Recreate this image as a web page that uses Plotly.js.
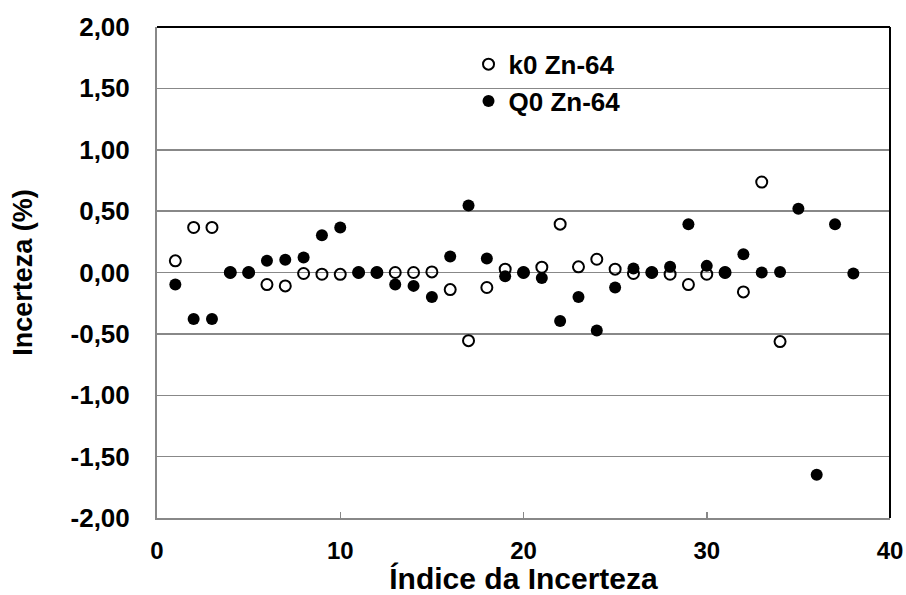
<!DOCTYPE html>
<html>
<head>
<meta charset="utf-8">
<script src="https://cdn.plot.ly/plotly-3.0.1.min.js"></script>
<style>html,body{margin:0;padding:0;background:#fff;}#chart{width:906px;height:595px;}</style>
</head>
<body>
<div id="chart"></div>
<script>
// Data
const k0Index = [1,2,3,4,5,6,7,8,9,10,11,12,13,14,15,16,17,18,19,20,21,22,23,24,25,26,27,28,29,30,31,32,33,34];
const k0Values = [0.095,0.367,0.367,0.00,0.00,-0.098,-0.109,-0.008,-0.014,-0.015,0.00,0.00,0.00,0.00,0.005,-0.139,-0.555,-0.122,0.027,0.00,0.043,0.394,0.046,0.108,0.027,-0.008,0.00,-0.014,-0.098,-0.014,0.00,-0.158,0.737,-0.563];
const q0Index = [1,2,3,4,5,6,7,8,9,10,11,12,13,14,15,16,17,18,19,20,21,22,23,24,25,26,27,28,29,30,31,32,33,34,35,36,37,38];
const q0Values = [-0.098,-0.378,-0.378,0.00,0.00,0.095,0.103,0.122,0.304,0.367,0.00,0.00,-0.098,-0.109,-0.199,0.13,0.546,0.114,-0.030,0.00,-0.044,-0.395,-0.199,-0.473,-0.122,0.033,0.00,0.046,0.394,0.054,0.00,0.149,0.00,0.005,0.519,-1.648,0.394,-0.008];
const seriesNames = ['k0 Zn-64', 'Q0 Zn-64'];
const yTicks = [-2,-1.5,-1,-0.5,0,0.5,1,1.5,2];
const yTickText = ['-2,00','-1,50','-1,00','-0,50','0,00','0,50','1,00','1,50','2,00'];
const xTicks = [0,10,20,30,40];
const xTickText = ['0','10','20','30','40'];

const FONT = 'Arial, "Liberation Sans", sans-serif';

const traces = [
  {
    x: k0Index, y: k0Values, name: seriesNames[0], type: 'scatter', mode: 'markers',
    marker: {symbol: 'circle-open', size: 11, color: '#000', line: {width: 2, color: '#000'}}
  },
  {
    x: q0Index, y: q0Values, name: seriesNames[1], type: 'scatter', mode: 'markers',
    marker: {symbol: 'circle', size: 12, color: '#000'}
  }
];

const layout = {
  width: 906, height: 595,
  paper_bgcolor: '#fff', plot_bgcolor: '#fff',
  margin: {l: 157, r: 16, t: 27, b: 77, pad: 0},
  font: {family: FONT, color: '#000'},
  showlegend: true,
  legend: {
    x: 0.425, y: 0.972, xanchor: 'left', yanchor: 'top',
    bgcolor: 'rgba(0,0,0,0)', borderwidth: 0,
    font: {family: FONT, size: 26, color: '#000', weight: 'bold'},
    tracegroupgap: 0, itemwidth: 30
  },
  xaxis: {
    range: [0, 40], tickvals: xTicks, ticktext: xTickText,
    showgrid: false, zeroline: false,
    showline: true, linecolor: '#888', linewidth: 2,
    ticks: 'inside', ticklen: 6, tickcolor: '#888', tickwidth: 1.5,
    ticklabelstandoff: 10,
    tickfont: {family: FONT, size: 24, color: '#000', weight: 'bold'},
    title: {text: 'Índice da Incerteza', font: {family: FONT, size: 30, color: '#000', weight: 'bold'}, standoff: 0}
  },
  yaxis: {
    range: [-2, 2], tickvals: yTicks, ticktext: yTickText,
    showgrid: true, gridcolor: '#888', gridwidth: 1.5,
    zeroline: false,
    showline: true, linecolor: '#888', linewidth: 2,
    ticks: '', ticklabelstandoff: 20,
    tickfont: {family: FONT, size: 26, color: '#000', weight: 'bold'},
    title: {text: 'Incerteza (%)', font: {family: FONT, size: 27, color: '#000', weight: 'bold'}, standoff: 30}
  },
  shapes: [
    {type: 'line', xref: 'paper', yref: 'paper', x0: 0, x1: 1, y0: 1, y1: 1, line: {color: '#000', width: 2}},
    {type: 'line', xref: 'paper', yref: 'paper', x0: 1, x1: 1, y0: 0, y1: 1, line: {color: '#000', width: 2}}
  ]
};

Plotly.newPlot('chart', traces, layout, {staticPlot: true, displayModeBar: false});
</script>
</body>
</html>
